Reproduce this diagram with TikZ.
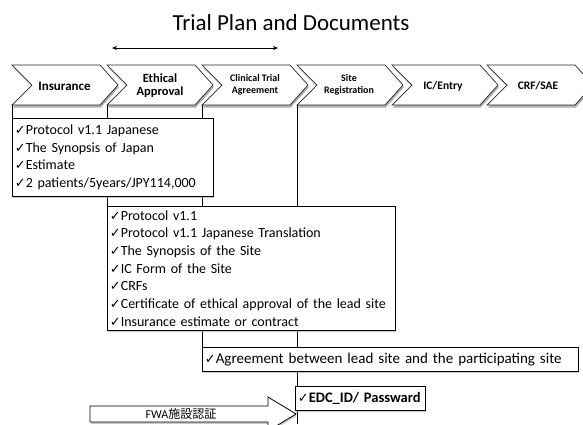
\documentclass[tikz,border=0pt]{standalone}
\usepackage{fontspec}
\setmainfont{Carlito}
\newfontfamily\symf{DejaVu Sans}
\newfontfamily\jpf{Noto Sans CJK JP}
\usetikzlibrary{arrows.meta,shadows}
\newcommand\ck{{\symf\fontsize{13}{12}\selectfont ✓}}
\tikzset{
  chevbox/.style={draw=black!85, line width=0.7pt, fill=white,
    drop shadow={shadow xshift=0.8pt, shadow yshift=-2.5pt, fill=black!45, opacity=0.7}},
  chevtext/.style={align=center, inner sep=0pt, font=\bfseries},
  docbox/.style={draw=black, line width=0.8pt, fill=white, anchor=north west,
    align=left, inner xsep=2.5pt, inner ysep=0pt, font=\fontsize{14}{17.7}\selectfont,
    drop shadow={shadow xshift=0.8pt, shadow yshift=-1.8pt, fill=black!35, opacity=0.6}},
  vline/.style={draw=black, line width=0.8pt},
}
\begin{document}
\begin{tikzpicture}[x=1pt,y=-1pt]
\clip (0,0) rectangle (583,424);
\fill[white] (0,0) rectangle (583,424);
% title and span arrow
\node (title) at (291,23) {\fontsize{23}{26}\selectfont Trial Plan and Documents};
\coordinate (al) at (112,48);
\coordinate (ar) at (278,48);
\draw[{Stealth[length=5pt,width=4pt]}-{Stealth[length=5pt,width=4pt]}, line width=0.7pt] (al) -- (ar);
% chevrons
\foreach \i in {0,...,5}{
  \pgfmathsetmacro\xo{12+95*\i}
  \path[chevbox] (\xo,65) -- (\xo+88,65) -- (\xo+106,85) -- (\xo+88,105) -- (\xo,105) -- (\xo+20,85) -- cycle;
  \coordinate (cb\i) at (\xo,105);
}
\node[chevtext, font=\bfseries\fontsize{13}{14}\selectfont] (ins) at (64.5,86) {Insurance};
\node[chevtext, font=\bfseries\fontsize{12.5}{13}\selectfont] (eth) at (160,86) {Ethical\\Approval};
\node[chevtext, font=\bfseries\fontsize{10}{12}\selectfont] (cta) at (255,85) {Clinical Trial\\Agreement};
\node[chevtext, font=\bfseries\fontsize{10}{12}\selectfont] (site) at (349,85) {Site\\Registration};
\node[chevtext, font=\bfseries\fontsize{11.5}{13}\selectfont] (ic) at (443,86) {IC/Entry};
\node[chevtext, font=\bfseries\fontsize{11.5}{13}\selectfont] (crf) at (538,86) {CRF/SAE};
% vertical lines
\coordinate (bot) at (297,424);
\path[vline] (cb0) -- (12,118);
\path[vline] (cb1) -- (107,206);
\path[vline] (cb2) -- (202,347);
\path[vline] (cb3) -- (bot);
% boxes
\node[docbox, minimum width=201pt, minimum height=78pt, text width=196pt] (b1) at (12,118)
 {\ck Protocol v1.1 Japanese\\ \ck The Synopsis of Japan\\ \ck Estimate\\ \ck 2 patients/5years/JPY114,000};
\node[docbox, minimum width=288pt, minimum height=124pt, text width=283pt] (b2) at (107,206)
 {\ck Protocol v1.1\\ \ck Protocol v1.1 Japanese Translation\\ \ck The Synopsis of the Site\\ \ck IC Form of the Site\\ \ck CRFs\\ \ck Certificate of ethical approval of the lead site\\ \ck Insurance estimate or contract};
\node[docbox, minimum width=376pt, minimum height=24pt, text width=371pt, font=\fontsize{15}{17}\selectfont] (b3) at (202,347)
 {\ck Agreement between lead site and the participating site};
\node[docbox, minimum width=130pt, minimum height=24pt, text width=125pt, font=\fontsize{14.5}{17}\selectfont] (b4) at (295,386)
 {\ck\textbf{EDC\_ID/ Passward}};
% FWA arrow
\path[draw=black, line width=0.8pt, fill=white,
  drop shadow={shadow xshift=0.8pt, shadow yshift=-1.8pt, fill=black!35, opacity=0.6}]
  (90,406) -- (268,406) -- (268,397) -- (296,414) -- (268,431) -- (268,422) -- (90,422) -- cycle;
\node[font=\fontsize{12}{13}\selectfont] (fwa) at (181,414) {FWA{\jpf 施設認証}};
\end{tikzpicture}
\end{document}
